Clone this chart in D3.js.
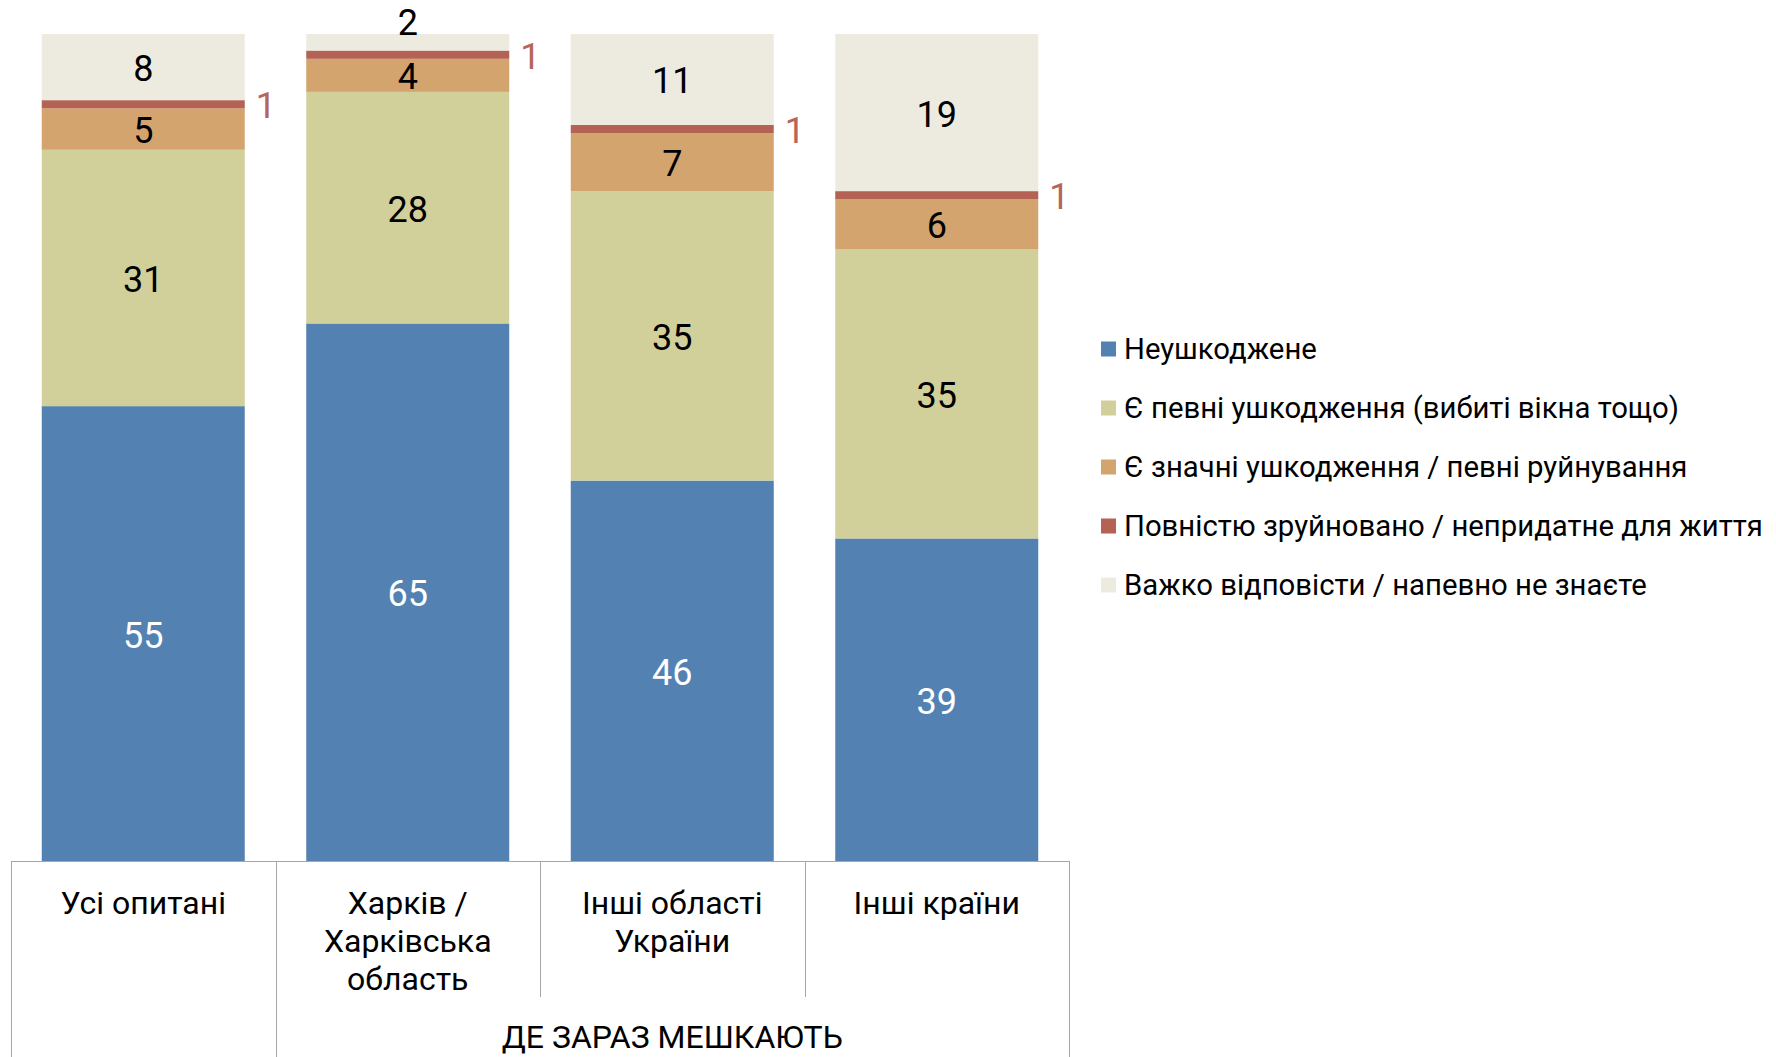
<!DOCTYPE html>
<html>
<head>
<meta charset="utf-8">
<script src="https://cdn.jsdelivr.net/npm/d3@7"></script>
<style>
  html, body { margin: 0; padding: 0; background: #ffffff; }
  svg { display: block; font-family: Roboto, "Noto Sans", sans-serif; }
</style>
</head>
<body>
<svg id="chart" width="1776" height="1057"></svg>
<script>
// ---- data ----
const categories = [
  ["Усі опитані"],
  ["Харків /", "Харківська", "область"],
  ["Інші області", "України"],
  ["Інші країни"]
];
const seriesNames = [
  "Неушкоджене",
  "Є певні ушкодження (вибиті вікна тощо)",
  "Є значні ушкодження / певні руйнування",
  "Повністю зруйновано / непридатне для життя",
  "Важко відповісти / напевно не знаєте"
];
const undamaged      = [55, 65, 46, 39];
const someDamage     = [31, 28, 35, 35];
const heavyDamage    = [5, 4, 7, 6];
const destroyed      = [1, 1, 1, 1];
const dontKnow       = [8, 2, 11, 19];
const groupLabel = "ДЕ ЗАРАЗ МЕШКАЮТЬ";
const colors = ["#5382b2", "#d1d09a", "#d3a46e", "#b46254", "#edebe0"];
const labelColors = ["#ffffff", "#000000", "#000000", "#b5655a", "#000000"];

// ---- layout ----
const svg = d3.select("#chart");
const axisLeft = 11, axisRight = 1069, axisY = 861, topY = 34;

const x = d3.scaleBand()
  .domain(d3.range(categories.length))
  .range([axisLeft, axisRight])
  .paddingInner(0.2325)
  .paddingOuter(0.2325 / 2);

const y = d3.scaleLinear().domain([0, 100]).range([axisY, topY]);

const table = categories.map((c, i) => ({
  i,
  s0: undamaged[i], s1: someDamage[i], s2: heavyDamage[i], s3: destroyed[i], s4: dontKnow[i]
}));
const keys = ["s0", "s1", "s2", "s3", "s4"];
const stacked = d3.stack().keys(keys)(table);

const g = svg.append("g");

stacked.forEach((layer, k) => {
  g.append("g").selectAll("rect")
    .data(layer)
    .join("rect")
    .attr("x", d => x(d.data.i))
    .attr("width", x.bandwidth())
    .attr("y", d => y(d[1]))
    .attr("height", d => y(d[0]) - y(d[1]))
    .attr("fill", colors[k]);
});

// value labels
stacked.forEach((layer, k) => {
  layer.forEach(d => {
    const v = d[1] - d[0];
    const h = y(d[0]) - y(d[1]);
    const cx = x(d.data.i) + x.bandwidth() / 2;
    const cy = (y(d[0]) + y(d[1])) / 2 + 2;
    let tx = cx, ty = cy, anchor = "middle", fill = labelColors[k];
    if (k === keys.length - 1 && h < 25) {
      ty = y(d[1]) - 11;
    } else if (h < 25) {
      tx = x(d.data.i) + x.bandwidth() + 11;
      anchor = "start";
    }
    g.append("text")
      .attr("x", tx).attr("y", ty)
      .attr("text-anchor", anchor)
      .attr("dominant-baseline", "central")
      .attr("font-size", 36)
      .attr("fill", fill)
      .text(v);
  });
});

// category axis (table style)
const step = x.step();
const lineColor = "#a6a6a6";
g.append("line")
  .attr("x1", axisLeft).attr("x2", axisRight)
  .attr("y1", axisY + 0.5).attr("y2", axisY + 0.5)
  .attr("stroke", lineColor).attr("stroke-width", 1);

const dividerBottoms = [1057, 1057, 997, 997, 1057];
d3.range(categories.length + 1).forEach(j => {
  const xx = Math.round(axisLeft + j * step) + 0.5;
  g.append("line")
    .attr("x1", xx).attr("x2", xx)
    .attr("y1", axisY).attr("y2", dividerBottoms[j])
    .attr("stroke", lineColor).attr("stroke-width", 1);
});

categories.forEach((lines, i) => {
  const t = g.append("text")
    .attr("text-anchor", "middle")
    .attr("font-size", 32)
    .attr("fill", "#000");
  lines.forEach((ln, li) => {
    t.append("tspan")
      .attr("x", x(i) + x.bandwidth() / 2)
      .attr("y", 903 + li * 38)
      .attr("dominant-baseline", "central")
      .text(ln);
  });
});

g.append("text")
  .attr("x", axisLeft + step + (axisRight - axisLeft - step) / 2)
  .attr("y", 1037)
  .attr("text-anchor", "middle")
  .attr("dominant-baseline", "central")
  .attr("font-size", 32)
  .attr("fill", "#000")
  .text(groupLabel);

// legend
const legend = svg.append("g");
const legendY0 = 349, legendStep = 59;
seriesNames.forEach((name, k) => {
  const yy = legendY0 + k * legendStep;
  legend.append("rect")
    .attr("x", 1101).attr("y", yy - 7.5)
    .attr("width", 15).attr("height", 15)
    .attr("fill", colors[k]);
  legend.append("text")
    .attr("x", 1124).attr("y", yy)
    .attr("dominant-baseline", "central")
    .attr("font-size", 29.3)
    .attr("fill", "#000")
    .text(name);
});
</script>
</body>
</html>
